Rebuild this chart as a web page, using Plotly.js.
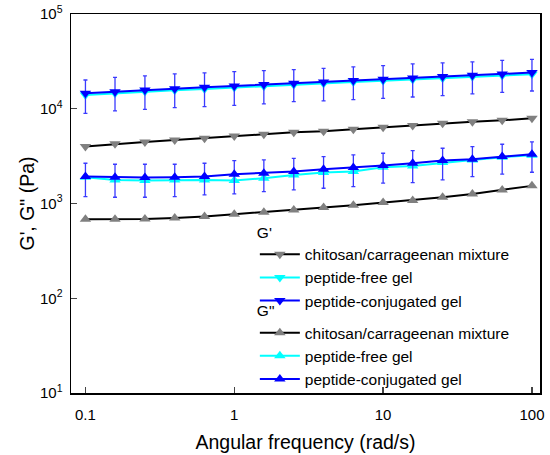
<!DOCTYPE html>
<html><head><meta charset="utf-8">
<script src="https://cdn.plot.ly/plotly-3.0.1.min.js"></script>
<style>html,body{margin:0;padding:0;background:#fff}#chart{width:550px;height:455px}</style>
</head><body><div id="chart"></div>
<script>
const freq = [0.1,0.158,0.251,0.398,0.631,1,1.58,2.51,3.98,6.31,10,15.8,25.1,39.8,63.1,100];

const gpChitosan = [3990,4260,4470,4690,4880,5170,5380,5650,5780,6070,6370,6640,7030,7310,7550,7930];
const gpFree = [14000,14600,15200,15700,16200,16800,17300,17900,18500,19100,19700,20400,21000,21700,22400,23100];
const gpConj = [14550,15160,15790,16300,16860,17410,17990,18580,19190,19820,20480,21150,21840,22560,23300,24060];
const gpConjUpper = [20100,21460,22180,23300,23860,24650,25250,25880,26730,27610,28520,29720,30420,31170,32460,33250];
const gpConjLower = [8950,9480,9870,10280,10520,10870,11240,11890,12080,12480,12890,13310,13750,14320,14920,15400];

const gppChitosan = [682,682,688,705,728,771,809,856,906,959,1023,1073,1164,1262,1391,1535];
const gppFree = [1893,1775,1746,1775,1775,1746,1847,2004,2120,2172,2412,2490,2704,2884,3077,3230];
const gppConj = [1923,1893,1877,1893,1923,2037,2085,2172,2297,2393,2512,2659,2838,2932,3128,3311];
const gppConjUpper = [2660,2596,2596,2596,2660,2838,2884,3001,3128,3258,3392,3617,3828,3987,4222,4470];
const gppConjLower = [1183,1164,1164,1183,1232,1262,1336,1391,1449,1509,1637,1664,1775,1923,2037,2137];

const names = ["chitosan/carrageenan mixture","peptide-free gel","peptide-conjugated gel"];
const lineColors = ["#000000","#00ffff","#0000ff"];
const markerColors = ["#808080","#00ffff","#0000ff"];

const yTickVals = [10,100,1000,10000,100000];
const yTickText = ["10<sup>1</sup>","10<sup>2</sup>","10<sup>3</sup>","10<sup>4</sup>","10<sup>5</sup>"];
const xTickVals = [0.1,1,10,100];
const xTickText = ["0.1","1","10","100"];

function errObj(vals, up, lo){
  return {type:'data', symmetric:false,
    array: up.map((u,i)=>u-vals[i]),
    arrayminus: vals.map((v,i)=>v-lo[i]),
    color:'#3a3aff', thickness:1.3, width:2};
}

const gp = [gpChitosan, gpFree, gpConj];
const gpp = [gppChitosan, gppFree, gppConj];
const traces = [];
gp.forEach((ys,k)=>{
  const t = {x:freq, y:ys, type:'scatter', mode:'lines+markers', name:names[k],
    legend:'legend',
    line:{color:lineColors[k], width:2},
    marker:{symbol:'triangle-down', size:10, color:markerColors[k]}};
  if(k===2) t.error_y = errObj(gpConj, gpConjUpper, gpConjLower);
  traces.push(t);
});
gpp.forEach((ys,k)=>{
  const t = {x:freq, y:ys, type:'scatter', mode:'lines+markers', name:names[k],
    legend:'legend2',
    line:{color:lineColors[k], width:2},
    marker:{symbol:'triangle-up', size:10, color:markerColors[k]}};
  if(k===2) t.error_y = errObj(gppConj, gppConjUpper, gppConjLower);
  traces.push(t);
});

const font = {family:'Arial, "Liberation Sans", sans-serif', color:'#000'};
const f = s => Object.assign({size:s}, font);
function legendCfg(title, y){
  return {x:0.392, y:y, xanchor:'left', yanchor:'top', bgcolor:'rgba(0,0,0,0)',
    font:f(15.5), itemwidth:40, traceorder:'normal',
    title:{text:title, font:f(15.5), side:'top'}};
}
const layout = {
  width:550, height:455,
  margin:{l:71, r:10, t:14, b:62},
  paper_bgcolor:'#fff', plot_bgcolor:'#fff',
  font:f(15),
  showlegend:true,
  legend:legendCfg("G'", 0.463),
  legend2:legendCfg('G"', 0.256),
  xaxis:{type:'log', range:[-1.097, 2.054], tickmode:'array', tickvals:xTickVals, ticktext:xTickText,
    ticks:'inside', ticklen:6, tickwidth:1.3, ticklabelstandoff:7,
    showline:true, linecolor:'#000', linewidth:1.5, mirror:true, showgrid:false, zeroline:false,
    tickfont:f(15),
    title:{text:'Angular frequency (rad/s)', font:f(19.5), standoff:14}},
  yaxis:{type:'log', range:[1, 5], tickmode:'array', tickvals:yTickVals, ticktext:yTickText,
    ticks:'inside', ticklen:6, tickwidth:1.3, ticklabelstandoff:4,
    showline:true, linecolor:'#000', linewidth:1.5, mirror:true,
    showgrid:false, zeroline:false,
    tickfont:f(15),
    title:{text:"G', G\" (Pa)", font:f(19.5), standoff:0}}
};
Plotly.newPlot('chart', traces, layout, {displayModeBar:false, staticPlot:true});
</script></body></html>
